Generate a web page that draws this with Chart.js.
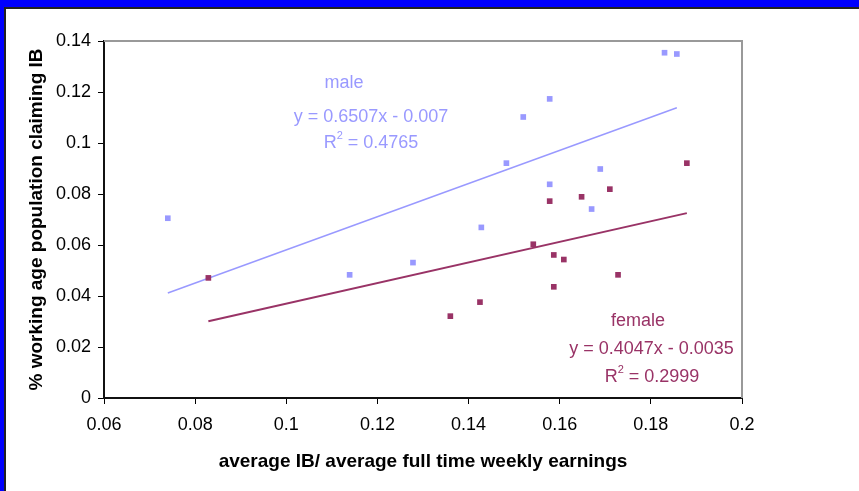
<!DOCTYPE html>
<html>
<head>
<meta charset="utf-8">
<script src="https://cdn.jsdelivr.net/npm/chart.js@4/dist/chart.umd.min.js"></script>
<style>
  html, body { margin: 0; padding: 0; background: #fff; }
  #frame { position: relative; width: 859px; height: 491px; background: #0000ff; overflow: hidden; }
  #paper { position: absolute; left: 4px; top: 7px; right: -10px; bottom: -10px; background: #fff;
           border-top: 2px solid #222; border-left: 2px solid #222; }
  #c { position: absolute; left: 0; top: 0; }
</style>
</head>
<body>
<div id="frame">
  <div id="paper"></div>
  <canvas id="c" width="859" height="491"></canvas>
</div>
<script>
// ---- data ----
const maleX   = [0.0740, 0.1139, 0.1278, 0.1428, 0.1483, 0.1520, 0.1578, 0.1578, 0.1670, 0.1689, 0.1830, 0.1857];
const maleY   = [0.0705, 0.0483, 0.0531, 0.0669, 0.0921, 0.1102, 0.1173, 0.0838, 0.0741, 0.0898, 0.1354, 0.1349];
const femaleX = [0.0829, 0.1360, 0.1425, 0.1542, 0.1578, 0.1587, 0.1587, 0.1609, 0.1648, 0.1710, 0.1728, 0.1879];
const femaleY = [0.0471, 0.0321, 0.0376, 0.0603, 0.0772, 0.0561, 0.0436, 0.0543, 0.0789, 0.0819, 0.0483, 0.0921];
const maleTrendX   = [0.0740, 0.1857];
const maleTrendY   = [0.0412, 0.1138];
const femaleTrendX = [0.0829, 0.1879];
const femaleTrendY = [0.0301, 0.0725];
const xTickValues = [0.06, 0.08, 0.1, 0.12, 0.14, 0.16, 0.18, 0.2];
const xTickLabels = ['0.06', '0.08', '0.1', '0.12', '0.14', '0.16', '0.18', '0.2'];
const yTickValues = [0, 0.02, 0.04, 0.06, 0.08, 0.1, 0.12, 0.14];
const yTickLabels = ['0', '0.02', '0.04', '0.06', '0.08', '0.1', '0.12', '0.14'];
const xTitle = 'average IB/ average full time weekly earnings';
const yTitle = '% working age population claiming IB';
const maleLabel   = ['male', 'y = 0.6507x - 0.007', '0.4765'];
const femaleLabel = ['female', 'y = 0.4047x - 0.0035', '0.2999'];

const MALE = '#9999ff';
const FEMALE = '#993366';
const FONT = '"Liberation Sans", Arial, sans-serif';

const pts = (xs, ys) => xs.map((x, i) => ({ x: x, y: ys[i] }));

const frameLines = {
  id: 'frameLines',
  beforeDatasetsDraw(chart) {
    const { ctx, chartArea: a } = chart;
    ctx.save();
    ctx.strokeStyle = '#999999';
    ctx.lineWidth = 2;
    ctx.beginPath();
    ctx.moveTo(a.left, a.top);
    ctx.lineTo(a.right, a.top);
    ctx.lineTo(a.right, a.bottom);
    ctx.stroke();
    ctx.restore();
  }
};

function drawR2(ctx, value, cx, cy) {
  const big = '18px ' + FONT, small = '11px ' + FONT;
  ctx.font = big; const wR = ctx.measureText('R').width;
  const rest = ' = ' + value; const wRest = ctx.measureText(rest).width;
  ctx.font = small; const w2 = ctx.measureText('2').width;
  let x = cx - (wR + w2 + wRest) / 2;
  ctx.textAlign = 'left';
  ctx.font = big; ctx.fillText('R', x, cy); x += wR;
  ctx.font = small; ctx.fillText('2', x, cy - 7); x += w2;
  ctx.font = big; ctx.fillText(rest, x, cy);
}

const labels = {
  id: 'labels',
  afterDatasetsDraw(chart) {
    const ctx = chart.ctx;
    ctx.save();
    ctx.textBaseline = 'middle';
    ctx.textAlign = 'center';
    ctx.font = '18px ' + FONT;
    ctx.fillStyle = MALE;
    ctx.fillText(maleLabel[0], 344, 83);
    ctx.fillText(maleLabel[1], 371, 117);
    drawR2(ctx, maleLabel[2], 371, 143);
    ctx.fillStyle = FEMALE;
    ctx.textAlign = 'center';
    ctx.font = '18px ' + FONT;
    ctx.fillText(femaleLabel[0], 638, 321);
    ctx.fillText(femaleLabel[1], 651.5, 349);
    drawR2(ctx, femaleLabel[2], 652, 377);
    ctx.restore();
  }
};

new Chart(document.getElementById('c'), {
  type: 'scatter',
  data: {
    datasets: [
      { label: 'male', data: pts(maleX, maleY), backgroundColor: MALE, borderColor: MALE,
        pointStyle: 'rect', pointRadius: 4, borderWidth: 0, order: 0 },
      { label: 'female', data: pts(femaleX, femaleY), backgroundColor: FEMALE, borderColor: FEMALE,
        pointStyle: 'rect', pointRadius: 4, borderWidth: 0, order: 0 },
      { type: 'line', label: 'male trend', data: pts(maleTrendX, maleTrendY), borderColor: MALE,
        borderWidth: 1.5, pointRadius: 0, fill: false, order: 1 },
      { type: 'line', label: 'female trend', data: pts(femaleTrendX, femaleTrendY), borderColor: FEMALE,
        borderWidth: 2, pointRadius: 0, fill: false, order: 1 }
    ]
  },
  options: {
    responsive: false,
    animation: false,
    events: [],
    layout: { padding: { left: 0, top: 41, right: 117, bottom: 0 } },
    plugins: { legend: { display: false }, tooltip: { enabled: false } },
    scales: {
      x: {
        type: 'linear', min: 0.06, max: 0.2,
        afterBuildTicks: s => { s.ticks = xTickValues.map(v => ({ value: v })); },
        afterFit: s => { s.height = 93; },
        ticks: { callback: (v, i) => xTickLabels[i], color: '#000', padding: 10,
                 font: { family: FONT, size: 18 }, maxRotation: 0, autoSkip: false },
        grid: { drawOnChartArea: false, drawTicks: true, tickLength: 6, tickColor: '#000', tickWidth: 1 },
        border: { display: true, color: '#111', width: 2 },
        title: { display: true, text: xTitle, color: '#000', padding: { top: 0, bottom: 17.5 },
                 font: { family: FONT, size: 19, weight: 'bold' } }
      },
      y: {
        type: 'linear', min: 0, max: 0.14,
        afterBuildTicks: s => { s.ticks = yTickValues.map(v => ({ value: v })); },
        afterFit: s => { s.width = 104; },
        ticks: { callback: (v, i) => yTickLabels[i], color: '#000', padding: 7,
                 font: { family: FONT, size: 18 }, autoSkip: false },
        grid: { drawOnChartArea: false, drawTicks: true, tickLength: 6, tickColor: '#000', tickWidth: 1 },
        border: { display: true, color: '#111', width: 2 },
        title: { display: true, text: yTitle, color: '#000', padding: { top: 25.5, bottom: 0 },
                 font: { family: FONT, size: 19, weight: 'bold' } }
      }
    }
  },
  plugins: [frameLines, labels]
});
</script>
</body>
</html>
